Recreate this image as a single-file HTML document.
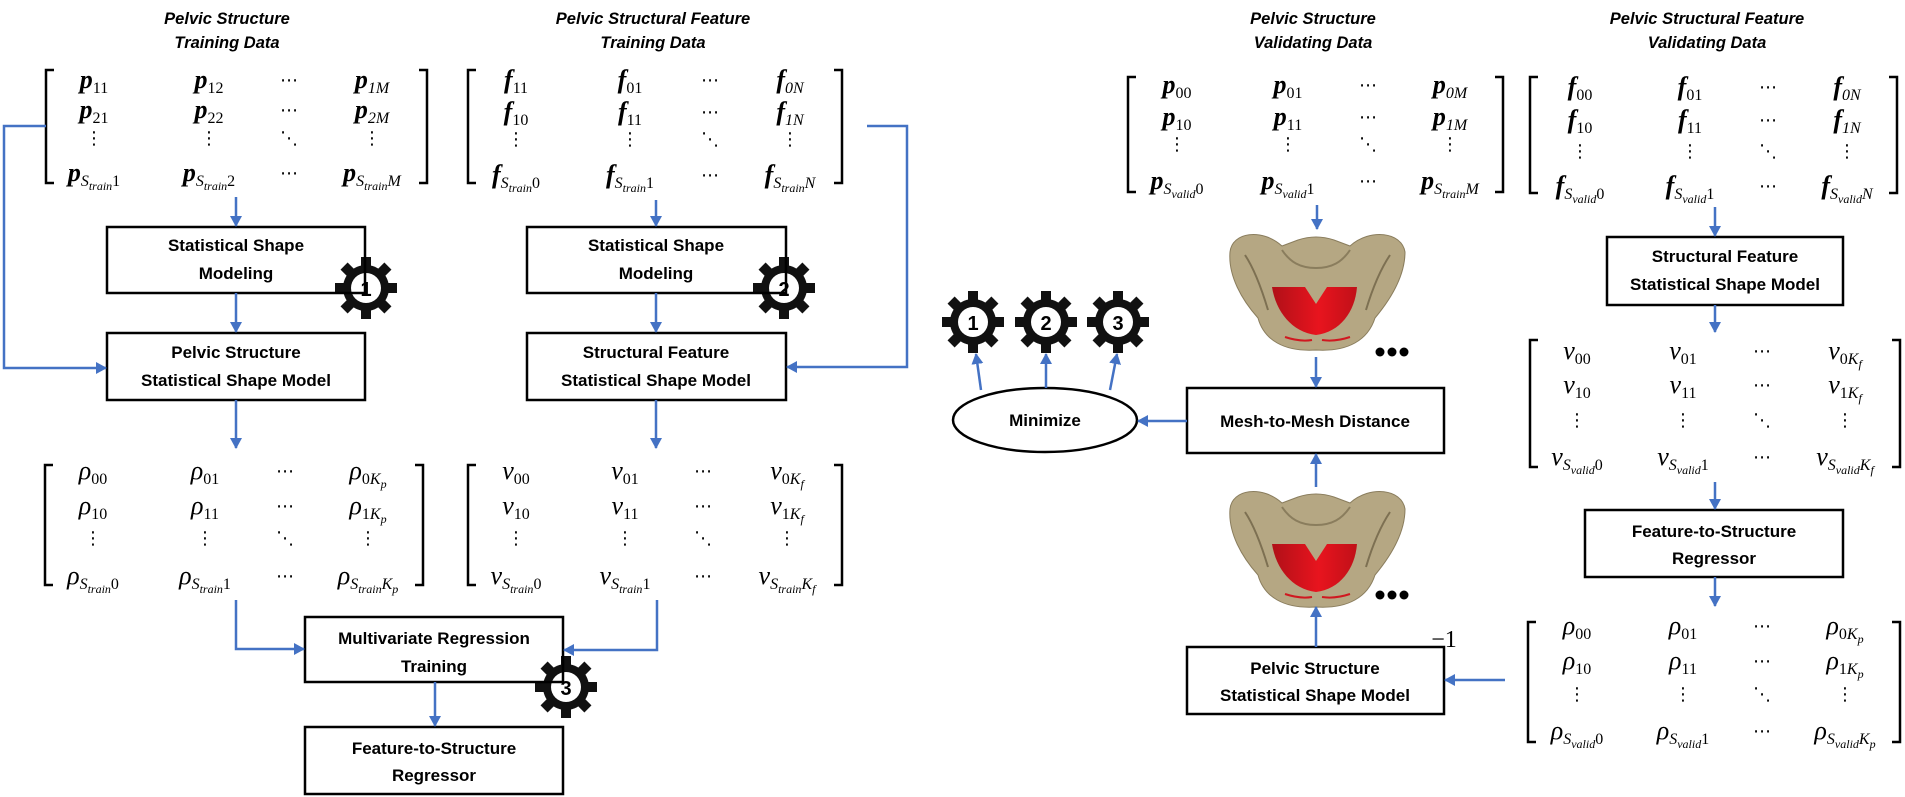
<!DOCTYPE html>
<html><head><meta charset="utf-8">
<style>
html,body{margin:0;padding:0;background:#fff;}
svg{display:block;}
.t{font-family:"Liberation Sans",sans-serif;font-weight:bold;font-style:italic;font-size:16.5px;text-anchor:middle;}
.b{font-family:"Liberation Sans",sans-serif;font-weight:bold;font-size:17px;text-anchor:middle;}
.m{font-family:"Liberation Serif",serif;font-style:italic;font-size:26px;text-anchor:middle;}
.mb{font-weight:bold;}
.s{font-size:16px;font-weight:normal;}
.n{font-style:normal;}
.ss{font-size:12px;font-weight:normal;}
.d{font-family:"DejaVu Sans",sans-serif;font-size:18px;text-anchor:middle;}
.g{font-family:"Liberation Sans",sans-serif;font-weight:bold;font-size:20px;text-anchor:middle;}
.box{fill:#fff;stroke:none;}
.bs{fill:none;stroke:#000;stroke-width:2.5;}
.ar{fill:none;stroke:#4472C4;stroke-width:2.5;marker-end:url(#ah);}
.br{fill:none;stroke:#000;stroke-width:2.5;}
</style></head>
<body>
<svg width="1905" height="797" viewBox="0 0 1905 797" xmlns="http://www.w3.org/2000/svg">
<defs>
<marker id="ah" markerWidth="12" markerHeight="12" refX="10" refY="6" orient="auto" markerUnits="userSpaceOnUse">
<path d="M0,0 L11,6 L0,12 Z" fill="#4472C4"/>
</marker>
<g id="gear">
<circle r="23" fill="#111"/>
<rect x="-5" y="-31" width="10" height="12" fill="#111"/>
<rect x="-5" y="-31" width="10" height="12" fill="#111" transform="rotate(45)"/>
<rect x="-5" y="-31" width="10" height="12" fill="#111" transform="rotate(90)"/>
<rect x="-5" y="-31" width="10" height="12" fill="#111" transform="rotate(135)"/>
<rect x="-5" y="-31" width="10" height="12" fill="#111" transform="rotate(180)"/>
<rect x="-5" y="-31" width="10" height="12" fill="#111" transform="rotate(225)"/>
<rect x="-5" y="-31" width="10" height="12" fill="#111" transform="rotate(270)"/>
<rect x="-5" y="-31" width="10" height="12" fill="#111" transform="rotate(315)"/>
<circle r="15" fill="#fff"/>
</g>
<linearGradient id="red" x1="0" x2="1" y1="0" y2="0">
<stop offset="0" stop-color="#b01018"/><stop offset="0.55" stop-color="#e8141e"/><stop offset="1" stop-color="#c01018"/>
</linearGradient>
<g id="pelvis">
<path d="M1230,252 C1232,232 1262,228 1282,246 L1298,240 Q1316,234 1334,240 L1350,246 C1370,228 1402,232 1405,252 C1405,276 1390,300 1375,318 C1368,340 1348,352 1316,350 C1284,352 1264,340 1258,318 C1242,300 1228,276 1230,252 Z" fill="#b5a783" stroke="#8a7d5d" stroke-width="1"/>
<path d="M1282,250 C1290,262 1300,268 1316,268 C1332,268 1342,262 1350,250" fill="none" stroke="#8a7d5d" stroke-width="2"/>
<path d="M1245,255 C1255,270 1262,290 1268,310" fill="none" stroke="#7d7052" stroke-width="2"/>
<path d="M1390,255 C1380,270 1372,290 1366,310" fill="none" stroke="#7d7052" stroke-width="2"/>
<path d="M1272,287 L1357,287 C1355,312 1340,332 1316,335 C1292,332 1276,312 1272,287 Z" fill="url(#red)"/>
<path d="M1305,287 L1316,304 L1327,287 Z" fill="#b5a783"/>
<path d="M1285,337 Q1300,342 1312,340 M1322,340 Q1335,342 1350,337" stroke="#d01820" stroke-width="2" fill="none"/>
</g>
</defs>

<!-- Titles -->
<text class="t" x="227" y="24">Pelvic Structure</text>
<text class="t" x="227" y="48">Training Data</text>
<text class="t" x="653" y="24">Pelvic Structural Feature</text>
<text class="t" x="653" y="48">Training Data</text>
<text class="t" x="1313" y="24">Pelvic Structure</text>
<text class="t" x="1313" y="48">Validating Data</text>
<text class="t" x="1707" y="24">Pelvic Structural Feature</text>
<text class="t" x="1707" y="48">Validating Data</text>

<!-- Matrix brackets -->
<path class="br" d="M54,70 H46 V183 H54 M419,70 H427 V183 H419"/>
<path class="br" d="M476,70 H468 V183 H476 M834,70 H842 V183 H834"/>
<path class="br" d="M53,465 H45 V585 H53 M415,465 H423 V585 H415"/>
<path class="br" d="M476,465 H468 V585 H476 M834,465 H842 V585 H834"/>
<path class="br" d="M1136,77 H1128 V192 H1136 M1495,77 H1503 V192 H1495"/>
<path class="br" d="M1538,77 H1530 V193 H1538 M1889,77 H1897 V193 H1889"/>
<path class="br" d="M1538,340 H1530 V467 H1538 M1892,340 H1900 V467 H1892"/>
<path class="br" d="M1536,622 H1528 V742 H1536 M1892,622 H1900 V742 H1892"/>

<!-- M1 p train -->
<text class="m mb" x="94" y="88">p<tspan class="s n" dy="5">11</tspan></text>
<text class="m mb" x="209" y="88">p<tspan class="s n" dy="5">12</tspan></text>
<text class="d" x="289" y="86">⋯</text>
<text class="m mb" x="372" y="88">p<tspan class="s" dy="5">1M</tspan></text>
<text class="m mb" x="94" y="118">p<tspan class="s n" dy="5">21</tspan></text>
<text class="m mb" x="209" y="118">p<tspan class="s n" dy="5">22</tspan></text>
<text class="d" x="289" y="116">⋯</text>
<text class="m mb" x="372" y="118">p<tspan class="s" dy="5">2M</tspan></text>
<text class="d" x="94" y="144">⋮</text><text class="d" x="209" y="144">⋮</text><text class="d" x="289" y="144">⋱</text><text class="d" x="372" y="144">⋮</text>
<text class="m mb" x="94" y="181">p<tspan class="s" dy="5">S</tspan><tspan class="ss" dy="4">train</tspan><tspan class="s n" dy="-4">1</tspan></text>
<text class="m mb" x="209" y="181">p<tspan class="s" dy="5">S</tspan><tspan class="ss" dy="4">train</tspan><tspan class="s n" dy="-4">2</tspan></text>
<text class="d" x="289" y="179">⋯</text>
<text class="m mb" x="372" y="181">p<tspan class="s" dy="5">S</tspan><tspan class="ss" dy="4">train</tspan><tspan class="s" dy="-4">M</tspan></text>

<!-- M2 f train -->
<text class="m mb" x="516" y="88">f<tspan class="s n" dy="5">11</tspan></text>
<text class="m mb" x="630" y="88">f<tspan class="s n" dy="5">01</tspan></text>
<text class="d" x="710" y="86">⋯</text>
<text class="m mb" x="790" y="88">f<tspan class="s" dy="5">0N</tspan></text>
<text class="m mb" x="516" y="120">f<tspan class="s n" dy="5">10</tspan></text>
<text class="m mb" x="630" y="120">f<tspan class="s n" dy="5">11</tspan></text>
<text class="d" x="710" y="118">⋯</text>
<text class="m mb" x="790" y="120">f<tspan class="s" dy="5">1N</tspan></text>
<text class="d" x="516" y="145">⋮</text><text class="d" x="630" y="145">⋮</text><text class="d" x="710" y="145">⋱</text><text class="d" x="790" y="145">⋮</text>
<text class="m mb" x="516" y="183">f<tspan class="s" dy="5">S</tspan><tspan class="ss" dy="4">train</tspan><tspan class="s n" dy="-4">0</tspan></text>
<text class="m mb" x="630" y="183">f<tspan class="s" dy="5">S</tspan><tspan class="ss" dy="4">train</tspan><tspan class="s n" dy="-4">1</tspan></text>
<text class="d" x="710" y="181">⋯</text>
<text class="m mb" x="790" y="183">f<tspan class="s" dy="5">S</tspan><tspan class="ss" dy="4">train</tspan><tspan class="s" dy="-4">N</tspan></text>

<!-- M3 rho train -->
<text class="m" x="93" y="479">ρ<tspan class="s n" dy="5">00</tspan></text>
<text class="m" x="205" y="479">ρ<tspan class="s n" dy="5">01</tspan></text>
<text class="d" x="285" y="477">⋯</text>
<text class="m" x="368" y="479">ρ<tspan class="s n" dy="5">0</tspan><tspan class="s">K</tspan><tspan class="ss" dy="4">p</tspan></text>
<text class="m" x="93" y="514">ρ<tspan class="s n" dy="5">10</tspan></text>
<text class="m" x="205" y="514">ρ<tspan class="s n" dy="5">11</tspan></text>
<text class="d" x="285" y="512">⋯</text>
<text class="m" x="368" y="514">ρ<tspan class="s n" dy="5">1</tspan><tspan class="s">K</tspan><tspan class="ss" dy="4">p</tspan></text>
<text class="d" x="93" y="544">⋮</text><text class="d" x="205" y="544">⋮</text><text class="d" x="285" y="544">⋱</text><text class="d" x="368" y="544">⋮</text>
<text class="m" x="93" y="584">ρ<tspan class="s" dy="5">S</tspan><tspan class="ss" dy="4">train</tspan><tspan class="s n" dy="-4">0</tspan></text>
<text class="m" x="205" y="584">ρ<tspan class="s" dy="5">S</tspan><tspan class="ss" dy="4">train</tspan><tspan class="s n" dy="-4">1</tspan></text>
<text class="d" x="285" y="582">⋯</text>
<text class="m" x="368" y="584">ρ<tspan class="s" dy="5">S</tspan><tspan class="ss" dy="4">train</tspan><tspan class="s" dy="-4">K</tspan><tspan class="ss" dy="4">p</tspan></text>

<!-- M4 nu train -->
<text class="m" x="516" y="479">ν<tspan class="s n" dy="5">00</tspan></text>
<text class="m" x="625" y="479">ν<tspan class="s n" dy="5">01</tspan></text>
<text class="d" x="703" y="477">⋯</text>
<text class="m" x="787" y="479">ν<tspan class="s n" dy="5">0</tspan><tspan class="s">K</tspan><tspan class="ss" dy="4">f</tspan></text>
<text class="m" x="516" y="514">ν<tspan class="s n" dy="5">10</tspan></text>
<text class="m" x="625" y="514">ν<tspan class="s n" dy="5">11</tspan></text>
<text class="d" x="703" y="512">⋯</text>
<text class="m" x="787" y="514">ν<tspan class="s n" dy="5">1</tspan><tspan class="s">K</tspan><tspan class="ss" dy="4">f</tspan></text>
<text class="d" x="516" y="544">⋮</text><text class="d" x="625" y="544">⋮</text><text class="d" x="703" y="544">⋱</text><text class="d" x="787" y="544">⋮</text>
<text class="m" x="516" y="584">ν<tspan class="s" dy="5">S</tspan><tspan class="ss" dy="4">train</tspan><tspan class="s n" dy="-4">0</tspan></text>
<text class="m" x="625" y="584">ν<tspan class="s" dy="5">S</tspan><tspan class="ss" dy="4">train</tspan><tspan class="s n" dy="-4">1</tspan></text>
<text class="d" x="703" y="582">⋯</text>
<text class="m" x="787" y="584">ν<tspan class="s" dy="5">S</tspan><tspan class="ss" dy="4">train</tspan><tspan class="s" dy="-4">K</tspan><tspan class="ss" dy="4">f</tspan></text>

<!-- M5 p valid -->
<text class="m mb" x="1177" y="93">p<tspan class="s n" dy="5">00</tspan></text>
<text class="m mb" x="1288" y="93">p<tspan class="s n" dy="5">01</tspan></text>
<text class="d" x="1368" y="91">⋯</text>
<text class="m mb" x="1450" y="93">p<tspan class="s" dy="5">0M</tspan></text>
<text class="m mb" x="1177" y="125">p<tspan class="s n" dy="5">10</tspan></text>
<text class="m mb" x="1288" y="125">p<tspan class="s n" dy="5">11</tspan></text>
<text class="d" x="1368" y="123">⋯</text>
<text class="m mb" x="1450" y="125">p<tspan class="s" dy="5">1M</tspan></text>
<text class="d" x="1177" y="150">⋮</text><text class="d" x="1288" y="150">⋮</text><text class="d" x="1368" y="150">⋱</text><text class="d" x="1450" y="150">⋮</text>
<text class="m mb" x="1177" y="189">p<tspan class="s" dy="5">S</tspan><tspan class="ss" dy="4">valid</tspan><tspan class="s n" dy="-4">0</tspan></text>
<text class="m mb" x="1288" y="189">p<tspan class="s" dy="5">S</tspan><tspan class="ss" dy="4">valid</tspan><tspan class="s n" dy="-4">1</tspan></text>
<text class="d" x="1368" y="187">⋯</text>
<text class="m mb" x="1450" y="189">p<tspan class="s" dy="5">S</tspan><tspan class="ss" dy="4">train</tspan><tspan class="s" dy="-4">M</tspan></text>

<!-- M6 f valid -->
<text class="m mb" x="1580" y="95">f<tspan class="s n" dy="5">00</tspan></text>
<text class="m mb" x="1690" y="95">f<tspan class="s n" dy="5">01</tspan></text>
<text class="d" x="1768" y="93">⋯</text>
<text class="m mb" x="1847" y="95">f<tspan class="s" dy="5">0N</tspan></text>
<text class="m mb" x="1580" y="128">f<tspan class="s n" dy="5">10</tspan></text>
<text class="m mb" x="1690" y="128">f<tspan class="s n" dy="5">11</tspan></text>
<text class="d" x="1768" y="126">⋯</text>
<text class="m mb" x="1847" y="128">f<tspan class="s" dy="5">1N</tspan></text>
<text class="d" x="1580" y="157">⋮</text><text class="d" x="1690" y="157">⋮</text><text class="d" x="1768" y="157">⋱</text><text class="d" x="1847" y="157">⋮</text>
<text class="m mb" x="1580" y="194">f<tspan class="s" dy="5">S</tspan><tspan class="ss" dy="4">valid</tspan><tspan class="s n" dy="-4">0</tspan></text>
<text class="m mb" x="1690" y="194">f<tspan class="s" dy="5">S</tspan><tspan class="ss" dy="4">valid</tspan><tspan class="s n" dy="-4">1</tspan></text>
<text class="d" x="1768" y="192">⋯</text>
<text class="m mb" x="1847" y="194">f<tspan class="s" dy="5">S</tspan><tspan class="ss" dy="4">valid</tspan><tspan class="s" dy="-4">N</tspan></text>

<!-- M7 nu valid -->
<text class="m" x="1577" y="359">ν<tspan class="s n" dy="5">00</tspan></text>
<text class="m" x="1683" y="359">ν<tspan class="s n" dy="5">01</tspan></text>
<text class="d" x="1762" y="357">⋯</text>
<text class="m" x="1845" y="359">ν<tspan class="s n" dy="5">0</tspan><tspan class="s">K</tspan><tspan class="ss" dy="4">f</tspan></text>
<text class="m" x="1577" y="393">ν<tspan class="s n" dy="5">10</tspan></text>
<text class="m" x="1683" y="393">ν<tspan class="s n" dy="5">11</tspan></text>
<text class="d" x="1762" y="391">⋯</text>
<text class="m" x="1845" y="393">ν<tspan class="s n" dy="5">1</tspan><tspan class="s">K</tspan><tspan class="ss" dy="4">f</tspan></text>
<text class="d" x="1577" y="426">⋮</text><text class="d" x="1683" y="426">⋮</text><text class="d" x="1762" y="426">⋱</text><text class="d" x="1845" y="426">⋮</text>
<text class="m" x="1577" y="465">ν<tspan class="s" dy="5">S</tspan><tspan class="ss" dy="4">valid</tspan><tspan class="s n" dy="-4">0</tspan></text>
<text class="m" x="1683" y="465">ν<tspan class="s" dy="5">S</tspan><tspan class="ss" dy="4">valid</tspan><tspan class="s n" dy="-4">1</tspan></text>
<text class="d" x="1762" y="463">⋯</text>
<text class="m" x="1845" y="465">ν<tspan class="s" dy="5">S</tspan><tspan class="ss" dy="4">valid</tspan><tspan class="s" dy="-4">K</tspan><tspan class="ss" dy="4">f</tspan></text>

<!-- M8 rho valid -->
<text class="m" x="1577" y="634">ρ<tspan class="s n" dy="5">00</tspan></text>
<text class="m" x="1683" y="634">ρ<tspan class="s n" dy="5">01</tspan></text>
<text class="d" x="1762" y="632">⋯</text>
<text class="m" x="1845" y="634">ρ<tspan class="s n" dy="5">0</tspan><tspan class="s">K</tspan><tspan class="ss" dy="4">p</tspan></text>
<text class="m" x="1577" y="669">ρ<tspan class="s n" dy="5">10</tspan></text>
<text class="m" x="1683" y="669">ρ<tspan class="s n" dy="5">11</tspan></text>
<text class="d" x="1762" y="667">⋯</text>
<text class="m" x="1845" y="669">ρ<tspan class="s n" dy="5">1</tspan><tspan class="s">K</tspan><tspan class="ss" dy="4">p</tspan></text>
<text class="d" x="1577" y="700">⋮</text><text class="d" x="1683" y="700">⋮</text><text class="d" x="1762" y="700">⋱</text><text class="d" x="1845" y="700">⋮</text>
<text class="m" x="1577" y="739">ρ<tspan class="s" dy="5">S</tspan><tspan class="ss" dy="4">valid</tspan><tspan class="s n" dy="-4">0</tspan></text>
<text class="m" x="1683" y="739">ρ<tspan class="s" dy="5">S</tspan><tspan class="ss" dy="4">valid</tspan><tspan class="s n" dy="-4">1</tspan></text>
<text class="d" x="1762" y="737">⋯</text>
<text class="m" x="1845" y="739">ρ<tspan class="s" dy="5">S</tspan><tspan class="ss" dy="4">valid</tspan><tspan class="s" dy="-4">K</tspan><tspan class="ss" dy="4">p</tspan></text>

<!-- Box fills -->
<rect class="box" x="107" y="227" width="258" height="66"/>
<rect class="box" x="107" y="333" width="258" height="67"/>
<rect class="box" x="527" y="227" width="259" height="66"/>
<rect class="box" x="527" y="333" width="259" height="67"/>
<rect class="box" x="305" y="617" width="258" height="65"/>
<rect class="box" x="305" y="727" width="258" height="67"/>
<rect class="box" x="1187" y="388" width="257" height="65"/>
<rect class="box" x="1187" y="647" width="257" height="67"/>
<rect class="box" x="1607" y="237" width="236" height="68"/>
<rect class="box" x="1585" y="510" width="258" height="67"/>

<!-- Gears -->
<use href="#gear" x="366" y="288"/>
<use href="#gear" x="784" y="288"/>
<use href="#gear" x="566" y="687"/>
<use href="#gear" x="973" y="322"/>
<use href="#gear" x="1046" y="322"/>
<use href="#gear" x="1118" y="322"/>

<!-- Box strokes -->
<rect class="bs" x="107" y="227" width="258" height="66"/>
<rect class="bs" x="107" y="333" width="258" height="67"/>
<rect class="bs" x="527" y="227" width="259" height="66"/>
<rect class="bs" x="527" y="333" width="259" height="67"/>
<rect class="bs" x="305" y="617" width="258" height="65"/>
<rect class="bs" x="305" y="727" width="258" height="67"/>
<rect class="bs" x="1187" y="388" width="257" height="65"/>
<rect class="bs" x="1187" y="647" width="257" height="67"/>
<rect class="bs" x="1607" y="237" width="236" height="68"/>
<rect class="bs" x="1585" y="510" width="258" height="67"/>
<ellipse cx="1045" cy="420" rx="92" ry="32" fill="#fff" stroke="#000" stroke-width="2.5"/>

<!-- Gear numbers -->
<text class="g" x="366" y="296">1</text>
<text class="g" x="784" y="296">2</text>
<text class="g" x="566" y="695">3</text>
<text class="g" x="973" y="330">1</text>
<text class="g" x="1046" y="330">2</text>
<text class="g" x="1118" y="330">3</text>

<!-- Box texts -->
<text class="b" x="236" y="251">Statistical Shape</text>
<text class="b" x="236" y="279">Modeling</text>
<text class="b" x="236" y="358">Pelvic Structure</text>
<text class="b" x="236" y="386">Statistical Shape Model</text>
<text class="b" x="656" y="251">Statistical Shape</text>
<text class="b" x="656" y="279">Modeling</text>
<text class="b" x="656" y="358">Structural Feature</text>
<text class="b" x="656" y="386">Statistical Shape Model</text>
<text class="b" x="434" y="644">Multivariate Regression</text>
<text class="b" x="434" y="672">Training</text>
<text class="b" x="434" y="754">Feature-to-Structure</text>
<text class="b" x="434" y="781">Regressor</text>
<text class="b" x="1315" y="427">Mesh-to-Mesh Distance</text>
<text class="b" x="1315" y="674">Pelvic Structure</text>
<text class="b" x="1315" y="701">Statistical Shape Model</text>
<text class="b" x="1725" y="262">Structural Feature</text>
<text class="b" x="1725" y="290">Statistical Shape Model</text>
<text class="b" x="1714" y="537">Feature-to-Structure</text>
<text class="b" x="1714" y="564">Regressor</text>
<text class="b" x="1045" y="426">Minimize</text>
<text x="1444" y="647" style="font-family:'Liberation Serif',serif;font-size:24px;text-anchor:middle;">−1</text>

<!-- Pelvis images -->
<use href="#pelvis"/>
<use href="#pelvis" y="257"/>
<circle cx="1380" cy="352" r="4.5" fill="#000"/><circle cx="1392" cy="352" r="4.5" fill="#000"/><circle cx="1404" cy="352" r="4.5" fill="#000"/>
<circle cx="1380" cy="595" r="4.5" fill="#000"/><circle cx="1392" cy="595" r="4.5" fill="#000"/><circle cx="1404" cy="595" r="4.5" fill="#000"/>

<!-- Connectors -->
<path class="ar" d="M236,197 V226"/>
<path class="ar" d="M236,293 V332"/>
<path class="ar" d="M46,126 H4 V368 H106"/>
<path class="ar" d="M656,200 V226"/>
<path class="ar" d="M656,293 V332"/>
<path class="ar" d="M867,126 H907 V367 H787"/>
<path class="ar" d="M236,400 V448"/>
<path class="ar" d="M656,400 V448"/>
<path class="ar" d="M236,600 V649 H304"/>
<path class="ar" d="M657,600 V650 H564"/>
<path class="ar" d="M435,682 V726"/>
<path class="ar" d="M1317,205 V229"/>
<path class="ar" d="M1316,357 V387"/>
<path class="ar" d="M1187,421 H1138"/>
<path class="ar" d="M981,390 L976,354"/>
<path class="ar" d="M1046,388 V354"/>
<path class="ar" d="M1110,390 L1117,354"/>
<path class="ar" d="M1316,487 V454"/>
<path class="ar" d="M1316,647 V607"/>
<path class="ar" d="M1505,680 H1445"/>
<path class="ar" d="M1715,207 V236"/>
<path class="ar" d="M1715,305 V332"/>
<path class="ar" d="M1715,482 V509"/>
<path class="ar" d="M1715,577 V606"/>
</svg>
</body></html>
